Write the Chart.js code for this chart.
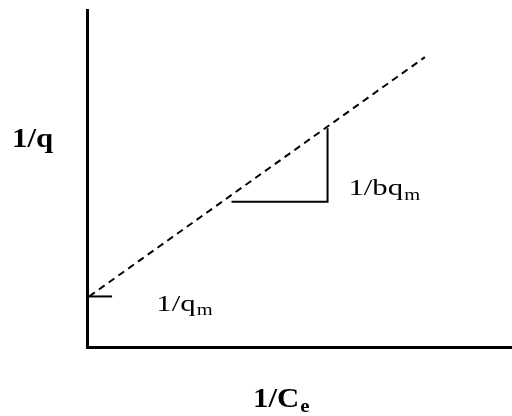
<!DOCTYPE html>
<html>
<head>
<meta charset="utf-8">
<script src="https://cdn.jsdelivr.net/npm/chart.js@4.4.0/dist/chart.umd.min.js"></script>
<style>
  html, body { margin: 0; padding: 0; background: #fff; }
  #wrap { width: 512px; height: 416px; }
</style>
</head>
<body>
<div id="wrap"><canvas id="plot" width="512" height="416"></canvas></div>
<script>
// Linearised Langmuir plot: 1/q against 1/Ce
const fitLine = [{ x: 0.05, y: 1.2 }, { x: 7.95, y: 6.88 }];
const slopeLegs = [{ x: 3.4, y: 3.45 }, { x: 5.66, y: 3.45 }, { x: 5.66, y: 5.19 }];
const interceptMark = [{ x: 0, y: 1.2 }, { x: 0.59, y: 1.2 }];
const xRange = [0, 10];
const yRange = [0, 8];

// text drawn on top of the plot, anchored in data units
const notes = [
  { main: "1/bq", sub: "m", x: 6.15, y: 3.6 },
  { main: "1/q", sub: "m", x: 1.63, y: 0.86 },
];

const serif = "'Liberation Serif', 'Times New Roman', serif";

// main text plus a lowered subscript, stretched sideways by sx
function drawSubText(ctx, main, sub, x, y, size, weight, sx) {
  ctx.save();
  ctx.translate(x, y);
  ctx.scale(sx, 1);
  ctx.font = `${weight} ${size}px ${serif}`;
  ctx.fillText(main, 0, 0);
  const w = ctx.measureText(main).width;
  ctx.font = `${weight} ${Math.round(size * 0.68)}px ${serif}`;
  ctx.fillText(sub, w + 1, size * 0.18);
  ctx.restore();
}

const labelPlugin = {
  id: "labels",
  afterDatasetsDraw(chart) {
    const { ctx, scales } = chart;
    ctx.save();
    ctx.fillStyle = "#000";
    ctx.textBaseline = "alphabetic";
    ctx.textAlign = "left";
    notes.forEach(n => {
      const px = scales.x.getPixelForValue(n.x);
      const py = scales.y.getPixelForValue(n.y);
      drawSubText(ctx, n.main, n.sub, px, py, 24, "normal", 1.28);
    });
    // axis titles
    drawSubText(ctx, "1/q", "", 12, 147, 28, "bold", 1.1);
    drawSubText(ctx, "1/C", "e", 253, 407, 28, "bold", 1.1);
    ctx.restore();
  }
};

const hiddenAxis = (range) => ({
  type: "linear",
  min: range[0],
  max: range[1],
  grid: { display: false, drawTicks: false },
  ticks: { display: false },
  border: { display: true, color: "#000", width: 3 },
});

new Chart(document.getElementById("plot"), {
  type: "scatter",
  data: {
    datasets: [
      { data: fitLine, showLine: true, borderColor: "#000", borderWidth: 2, borderDash: [7, 5], pointRadius: 0 },
      { data: slopeLegs, showLine: true, borderColor: "#000", borderWidth: 2, pointRadius: 0 },
      { data: interceptMark, showLine: true, borderColor: "#000", borderWidth: 2, pointRadius: 0 },
    ]
  },
  options: {
    responsive: false,
    animation: false,
    layout: { padding: { left: 87, top: 10, right: 0, bottom: 69 } },
    plugins: { legend: { display: false }, tooltip: { enabled: false } },
    scales: { x: hiddenAxis(xRange), y: hiddenAxis(yRange) },
  },
  plugins: [labelPlugin],
});
</script>
</body>
</html>
